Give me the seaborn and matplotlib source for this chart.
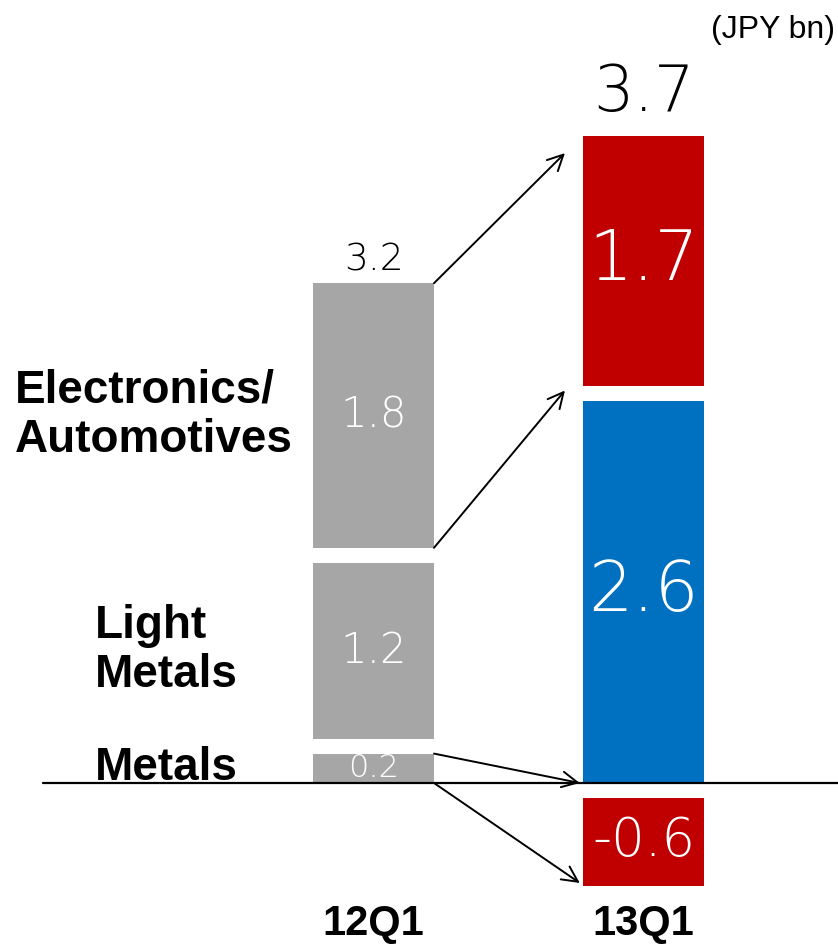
import matplotlib
matplotlib.use("Agg")
import matplotlib.pyplot as plt
import matplotlib.transforms as mtransforms
import seaborn as sns

# data (JPY bn)
categories = ["12Q1", "13Q1"]
segments = ["Metals", "Light Metals", "Electronics/Automotives"]
values_12q1 = [0.2, 1.2, 1.8]
values_13q1 = [-0.6, 2.6, 1.7]
totals = [3.2, 3.7]
seg_labels = ["Metals", "Light\nMetals", "Electronics/\nAutomotives"]

colors_12q1 = ["#A6A6A6", "#A6A6A6", "#A6A6A6"]
colors_13q1 = ["#C00000", "#0070C0", "#C00000"]

sns.set_theme(style="white")
plt.rcParams["font.family"] = ["Liberation Sans", "DejaVu Sans"]
plt.rcParams["text.color"] = "black"
num_font = ["DejaVu Sans"]

GAP = 0.1
BAR_W = 0.448


def stack(values):
    # bottoms/tops with a small white gap between segments
    pos, neg = 0.0, -GAP
    out = []
    for v in values:
        if v >= 0:
            out.append((pos, pos + v))
            pos += v + GAP
        else:
            out.append((neg, neg + v))
            neg += v - GAP
    return out


geo = [stack(values_12q1), stack(values_13q1)]
all_values = [values_12q1, values_13q1]
all_colors = [colors_12q1, colors_13q1]

fig = plt.figure(figsize=(8.38, 9.51), dpi=100)
ax = fig.add_axes([0, 0, 1, 1])

inner_sizes = [[23, 30, 30], [38, 50, 50]]
for i, cat in enumerate(categories):
    for j, v in enumerate(all_values[i]):
        b, t = geo[i][j]
        sns.barplot(x=[cat], y=[v], order=categories, bottom=b,
                    color=all_colors[i][j], width=BAR_W, saturation=1,
                    errorbar=None, linewidth=0, ax=ax)
        ax.text(i, (b + t) / 2, f"{v:.1f}", ha="center", va="center",
                color="white", fontsize=inner_sizes[i][j], family=num_font,
                fontweight="light")

# totals above the bars
total_sizes = [27, 46]
total_offsets = [9, 18]
for i, tot in enumerate(totals):
    top = max(t for b, t in geo[i])
    ax.annotate(f"{tot:.1f}", xy=(i, top), xytext=(0, total_offsets[i]),
                textcoords="offset points", ha="center", va="baseline",
                fontsize=total_sizes[i], family=num_font,
                fontweight="light", color="black")

# segment names on the left
blend = mtransforms.blended_transform_factory(ax.transAxes, ax.transData)
label_x = [0.113, 0.113, 0.018]
for j, name in enumerate(seg_labels):
    b, t = geo[0][j]
    ax.text(label_x[j], (b + t) / 2, name, transform=blend, ha="left",
            va="center", fontsize=33, fontweight="bold", linespacing=1.15)

# arrows from 12Q1 segment edges to 13Q1 segment edges
x0 = 0 + BAR_W / 2
x1 = 1 - BAR_W / 2
arrows = [
    (geo[0][2][1], geo[1][2][1] - 0.115, 0.067),
    (geo[0][2][0], geo[1][2][0] - 0.03, 0.067),
    (geo[0][0][1], geo[1][1][0], 0.012),
    (geo[0][0][0], geo[1][0][1] + 0.02, 0.012),
]
for ys, ye, dx in arrows:
    ax.annotate("", xy=(x1 - dx, ye), xytext=(x0, ys),
                arrowprops=dict(arrowstyle="->", color="black", lw=1.4,
                                mutation_scale=28, shrinkA=0, shrinkB=0))

ax.set_xlim(-373.5 / 270, (838 - 373.5) / 270)
ax.set_ylim(-168 / 147, 783 / 147)
ax.axhline(0, xmin=43 / 838, xmax=1, color="black", lw=1.6)

cat_blend = mtransforms.blended_transform_factory(ax.transData, ax.transAxes)
for i, cat in enumerate(categories):
    ax.text(i, 0.028, cat, transform=cat_blend, ha="center", va="center",
            fontsize=30, fontweight="bold")

ax.text(0.996, 0.968, "(JPY bn)", transform=ax.transAxes, ha="right",
        va="center", fontsize=23)

ax.set_axis_off()
fig.savefig("out.png", dpi=100)
plt.close(fig)
